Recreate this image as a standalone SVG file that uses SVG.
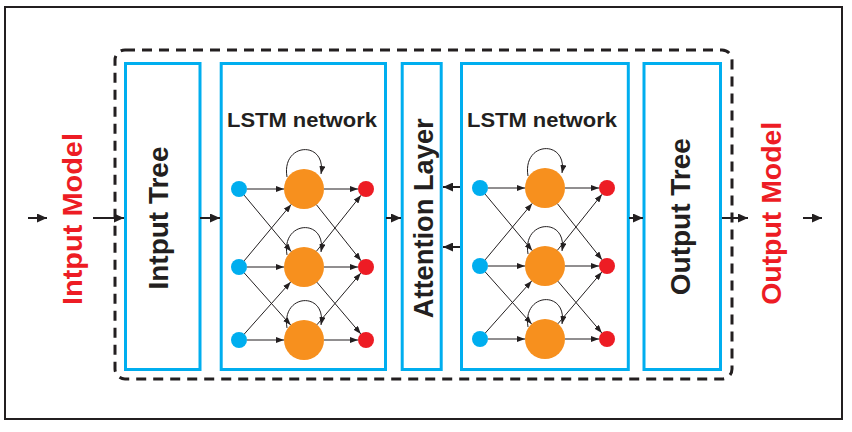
<svg xmlns="http://www.w3.org/2000/svg" width="852" height="432" viewBox="0 0 852 432">
<defs>
<style>
.frame{fill:#fff;stroke:#231f20;stroke-width:2}
.dash{fill:none;stroke:#231f20;stroke-width:3;stroke-dasharray:10 7}
.box{fill:#fff;stroke:#00aeef;stroke-width:3}
.main{stroke:#231f20;stroke-width:2;fill:none;marker-end:url(#ah)}
.thin{stroke:#231f20;stroke-width:1;fill:none;marker-end:url(#sh)}
.vt{font-family:"Liberation Sans",Arial,sans-serif;font-weight:bold;font-size:28px;fill:#231f20;text-anchor:middle}
.red{fill:#ed1c24}
.ttl{font-family:"Liberation Sans",Arial,sans-serif;font-weight:bold;font-size:20px;fill:#231f20;text-anchor:middle}
.bn{fill:#00aeef}
.on{fill:#f7901e}
.rn{fill:#ed1c24}
</style>
<marker id="ah" markerUnits="userSpaceOnUse" markerWidth="10" markerHeight="9" refX="10" refY="4.5" orient="auto"><path d="M0,0 L10,4.5 L0,9 z" fill="#231f20"/></marker>
<marker id="sh" markerUnits="userSpaceOnUse" markerWidth="8" markerHeight="6" refX="8" refY="3" orient="auto"><path d="M0,0 L8,3 L0,6 z" fill="#231f20"/></marker>
</defs>
<rect class="frame" x="5" y="7" width="837" height="412"/>
<rect id="module" class="dash" x="115" y="50" width="617" height="329" rx="10"/>

<g id="input-model"><text class="vt red" transform="translate(82,219) rotate(-90)" textLength="172" lengthAdjust="spacingAndGlyphs">Intput Model</text></g>
<g id="input-tree"><rect class="box" x="125.5" y="63.5" width="74.5" height="306"/><text class="vt" transform="translate(168,218) rotate(-90)" textLength="143" lengthAdjust="spacingAndGlyphs">Intput Tree</text></g>
<g id="lstm1"><rect class="box" x="221.2" y="63.5" width="164.3" height="306"/><text class="ttl" x="302" y="127" textLength="150" lengthAdjust="spacingAndGlyphs">LSTM network</text></g>
<g id="attention"><rect class="box" x="402.2" y="63.5" width="39" height="306"/><text class="vt" transform="translate(433,218.3) rotate(-90)" textLength="200" lengthAdjust="spacingAndGlyphs">Attention Layer</text></g>
<g id="lstm2"><rect class="box" x="461.5" y="63.5" width="166.8" height="306"/><text class="ttl" x="542" y="127" textLength="150" lengthAdjust="spacingAndGlyphs">LSTM network</text></g>
<g id="output-tree"><rect class="box" x="644" y="63.5" width="76.5" height="306"/><text class="vt" transform="translate(690,216.7) rotate(-90)" textLength="157" lengthAdjust="spacingAndGlyphs">Output Tree</text></g>
<g id="output-model"><text class="vt red" transform="translate(780.5,213.3) rotate(-90)" textLength="183" lengthAdjust="spacingAndGlyphs">Output Model</text></g>

<g id="lstm1-nodes">
<circle id="l1-in1" class="bn" cx="239" cy="189" r="8"/>
<circle id="l1-in2" class="bn" cx="239" cy="267" r="8"/>
<circle id="l1-in3" class="bn" cx="239" cy="340" r="8"/>
<circle id="l1-h1" class="on" cx="304" cy="189" r="20"/>
<circle id="l1-h2" class="on" cx="304" cy="267" r="20"/>
<circle id="l1-h3" class="on" cx="304" cy="340" r="20"/>
<circle id="l1-out1" class="rn" cx="366" cy="189" r="8"/>
<circle id="l1-out2" class="rn" cx="366" cy="267" r="8"/>
<circle id="l1-out3" class="rn" cx="366" cy="340" r="8"/>
</g>
<g id="lstm2-nodes">
<circle id="l2-in1" class="bn" cx="480" cy="188" r="8"/>
<circle id="l2-in2" class="bn" cx="480" cy="266" r="8"/>
<circle id="l2-in3" class="bn" cx="480" cy="339" r="8"/>
<circle id="l2-h1" class="on" cx="545" cy="188" r="20"/>
<circle id="l2-h2" class="on" cx="545" cy="266" r="20"/>
<circle id="l2-h3" class="on" cx="545" cy="339" r="20"/>
<circle id="l2-out1" class="rn" cx="607" cy="188" r="8"/>
<circle id="l2-out2" class="rn" cx="607" cy="266" r="8"/>
<circle id="l2-out3" class="rn" cx="607" cy="339" r="8"/>
</g>

<g id="connectors">
<line class="main" x1="28" y1="218" x2="47" y2="218"/>
<line class="main" x1="93" y1="218" x2="124" y2="218"/>
<line class="main" x1="200" y1="218" x2="220" y2="218"/>
<line class="main" x1="386" y1="218" x2="401" y2="218"/>
<line class="main" x1="460" y1="187" x2="443" y2="187"/>
<line class="main" x1="460" y1="247" x2="443" y2="247"/>
<line class="main" x1="629" y1="218" x2="643" y2="218"/>
<line class="main" x1="722" y1="218" x2="748" y2="218"/>
<line class="main" x1="803" y1="218" x2="822" y2="218"/>

<line class="thin" x1="247" y1="189" x2="284" y2="189"/>
<line class="thin" x1="247" y1="267" x2="284" y2="267"/>
<line class="thin" x1="247" y1="340" x2="284" y2="340"/>
<line class="thin" x1="324" y1="189" x2="358" y2="189"/>
<line class="thin" x1="324" y1="267" x2="358" y2="267"/>
<line class="thin" x1="324" y1="340" x2="358" y2="340"/>
<line class="thin" x1="244.1" y1="195.1" x2="291.2" y2="251.6"/>
<line class="thin" x1="244.1" y1="260.9" x2="291.2" y2="204.4"/>
<line class="thin" x1="244.3" y1="273" x2="290.7" y2="325.1"/>
<line class="thin" x1="244.3" y1="334" x2="290.7" y2="281.9"/>
<line class="thin" x1="316.4" y1="204.7" x2="361" y2="260.7"/>
<line class="thin" x1="316.4" y1="251.3" x2="361" y2="195.3"/>
<line class="thin" x1="316.9" y1="282.2" x2="360.8" y2="333.9"/>
<line class="thin" x1="316.9" y1="324.8" x2="360.8" y2="273.1"/>
<path class="thin" d="M287,177 C281,142 327,140 321,174"/>
<path class="thin" d="M287,255 C281,220 327,218 321,252"/>
<path class="thin" d="M287,328 C281,293 327,291 321,325"/>

<line class="thin" x1="488" y1="188" x2="525" y2="188"/>
<line class="thin" x1="488" y1="266" x2="525" y2="266"/>
<line class="thin" x1="488" y1="339" x2="525" y2="339"/>
<line class="thin" x1="565" y1="188" x2="599" y2="188"/>
<line class="thin" x1="565" y1="266" x2="599" y2="266"/>
<line class="thin" x1="565" y1="339" x2="599" y2="339"/>
<line class="thin" x1="485.1" y1="194.1" x2="532.2" y2="250.6"/>
<line class="thin" x1="485.1" y1="259.9" x2="532.2" y2="203.4"/>
<line class="thin" x1="485.3" y1="272" x2="531.7" y2="324.1"/>
<line class="thin" x1="485.3" y1="333" x2="531.7" y2="280.9"/>
<line class="thin" x1="557.4" y1="203.7" x2="602" y2="259.7"/>
<line class="thin" x1="557.4" y1="250.3" x2="602" y2="194.3"/>
<line class="thin" x1="557.9" y1="281.2" x2="601.8" y2="332.9"/>
<line class="thin" x1="557.9" y1="323.8" x2="601.8" y2="272.1"/>
<path class="thin" d="M528,176 C522,141 568,139 562,173"/>
<path class="thin" d="M528,254 C522,219 568,217 562,251"/>
<path class="thin" d="M528,327 C522,292 568,290 562,324"/>
</g>
</svg>
